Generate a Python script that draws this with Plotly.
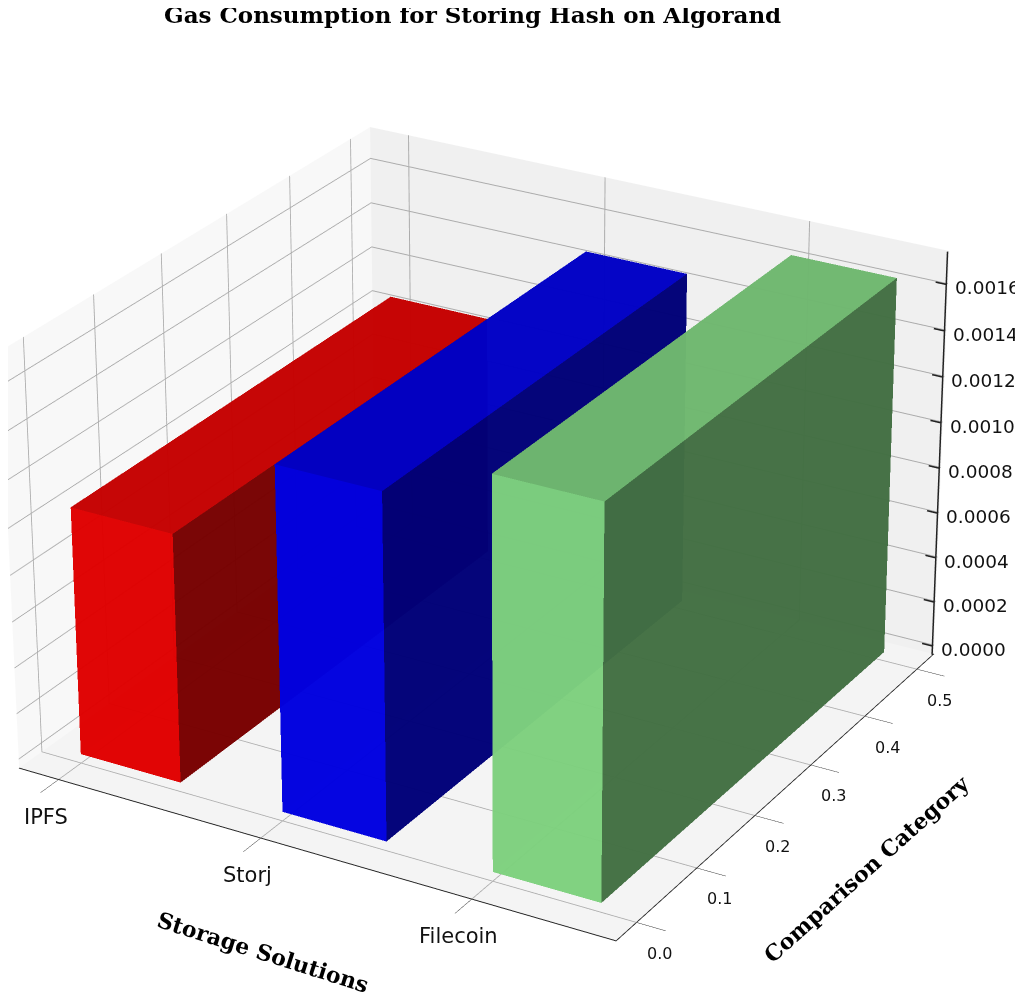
import plotly.graph_objects as go

solutions = ["IPFS", "Storj", "Filecoin"]
positions = [0, 1, 2]
gas = [0.00107, 0.00147, 0.00165]
bar_colors = [(255, 0, 0), (0, 0, 255), (144, 238, 144)]
y_ticks = [0.0, 0.1, 0.2, 0.3, 0.4, 0.5]
z_ticks = [0.0, 0.0002, 0.0004, 0.0006, 0.0008, 0.0010, 0.0012, 0.0014, 0.0016]
x_range = [-0.2, 2.66]
y_range = [-0.033, 0.533]
z_range = [-0.00004, 0.00174]
bar_width = 0.5
bar_depth = 0.5

# bottom, back, left, top, right, front: drawn far to near since the mesh is see-through
face_shades = [0.62, 0.6, 0.6, 0.8, 0.45, 0.92]
quads = [(0, 1, 2, 3), (3, 2, 6, 7), (0, 3, 7, 4), (4, 5, 6, 7), (1, 2, 6, 5), (0, 1, 5, 4)]


def bar_trace(x0, height, color):
    x1 = x0 + bar_width
    xs = [x0, x1, x1, x0, x0, x1, x1, x0]
    ys = [0, 0, bar_depth, bar_depth, 0, 0, bar_depth, bar_depth]
    zs = [0, 0, 0, 0, height, height, height, height]
    i, j, k, facecolor = [], [], [], []
    for quad, shade in zip(quads, face_shades):
        shaded = "rgb(%d,%d,%d)" % tuple(int(c * shade) for c in color)
        i += [quad[0], quad[0]]
        j += [quad[1], quad[2]]
        k += [quad[2], quad[3]]
        facecolor += [shaded, shaded]
    return go.Mesh3d(
        x=xs, y=ys, z=zs, i=i, j=j, k=k, facecolor=facecolor, opacity=0.85, flatshading=True,
        lighting=dict(ambient=1, diffuse=0, specular=0, roughness=1, fresnel=0), hoverinfo="skip")


def z_axis_trace():
    # plotly puts the z axis on the left edge for this view, the reference has it on the right.
    # kept just inside the box, anything on or past the range limit gets clipped
    edge_x = x_range[1] - 0.003
    edge_y = y_range[1] - 0.002
    xs, ys, zs = [edge_x, edge_x], [edge_y, edge_y], [z_range[0], z_range[1]]
    for tick in z_ticks:
        xs += [None, edge_x - 0.05, edge_x]
        ys += [None, edge_y, edge_y]
        zs += [None, tick, tick]
    return go.Scatter3d(x=xs, y=ys, z=zs, mode="lines", line=dict(color="#222222", width=3), hoverinfo="skip")


def tick_note(x, y, z, text, size, xshift, yshift, xanchor="center"):
    return dict(
        x=x, y=y, z=z, text=text, showarrow=False, xshift=xshift, yshift=yshift, xanchor=xanchor,
        font=dict(family="DejaVu Sans", size=size, color="#111111"))


def paper_note(text, x_px, y_px, size, angle=0, yshift=0):
    return dict(
        text="<b>%s</b>" % text, x=x_px / 1023, y=1 - y_px / 992, xref="paper", yref="paper", xanchor="center",
        yanchor="middle", showarrow=False, textangle=angle, yshift=yshift,
        font=dict(family="DejaVu Serif", size=size, color="black"))


fig = go.Figure()
for pos, value, color in zip(positions, gas, bar_colors):
    fig.add_trace(bar_trace(pos, value, color))
fig.add_trace(z_axis_trace())

tick_notes = []
for pos, name in zip(positions, solutions):
    tick_notes.append(tick_note(pos, y_range[0], z_range[0], name, 21, -13, -37))
for tick in y_ticks:
    tick_notes.append(tick_note(x_range[1], tick, z_range[0], "%.1f" % tick, 16, 23, -31))
for tick in z_ticks:
    tick_notes.append(tick_note(x_range[1], y_range[1], tick, "%.4f" % tick, 18.5, 5, -4, "left"))

axis_style = dict(
    showbackground=True, gridcolor="#acacac", gridwidth=2, showline=True, linecolor="#222222", linewidth=2,
    ticks="outside", ticklen=6, tickcolor="#222222", zeroline=False, showspikes=False, showticklabels=False,
    title=dict(text=""))

fig.update_layout(
    width=1023, height=992, margin=dict(l=0, r=0, t=0, b=0), paper_bgcolor="white", showlegend=False,
    scene=dict(
        domain=dict(x=[0, 1], y=[0, 1]),
        aspectmode="manual", aspectratio=dict(x=1, y=1, z=0.667),
        camera=dict(
            projection=dict(type="perspective"), up=dict(x=0, y=0, z=1),
            center=dict(x=0.0404, y=0.0299, z=0.0051), eye=dict(x=3.492, y=-5.95, z=3.298)),
        xaxis=dict(axis_style, range=x_range, tickvals=positions, backgroundcolor="#f8f8f8"),
        yaxis=dict(axis_style, range=y_range, tickvals=y_ticks, backgroundcolor="#f0f0f0"),
        zaxis=dict(
            axis_style, range=z_range, tickvals=z_ticks, showline=False, ticks="", backgroundcolor="#f4f4f4"),
        annotations=tick_notes),
    annotations=[
        paper_note("Gas Consumption for Storing Hash on Algorand", 464, 8, 23, yshift=1),
        paper_note("Storage Solutions", 255, 944, 22, 17.6),
        paper_note("Comparison Category", 858, 861, 22, -42)])

# plotly has no setting for the field of view, the reference has a much longer lens
narrow_lens = """
var gd = document.getElementById('{plot_id}');
function narrow() {
    var sc = gd._fullLayout && gd._fullLayout.scene && gd._fullLayout.scene._scene;
    if (sc && sc.glplot) { sc.glplot.fovy = 0.19; sc.glplot.redraw(); }
    else { setTimeout(narrow, 50); }
}
narrow();
"""
fig.write_html("out.html", post_script=narrow_lens)
